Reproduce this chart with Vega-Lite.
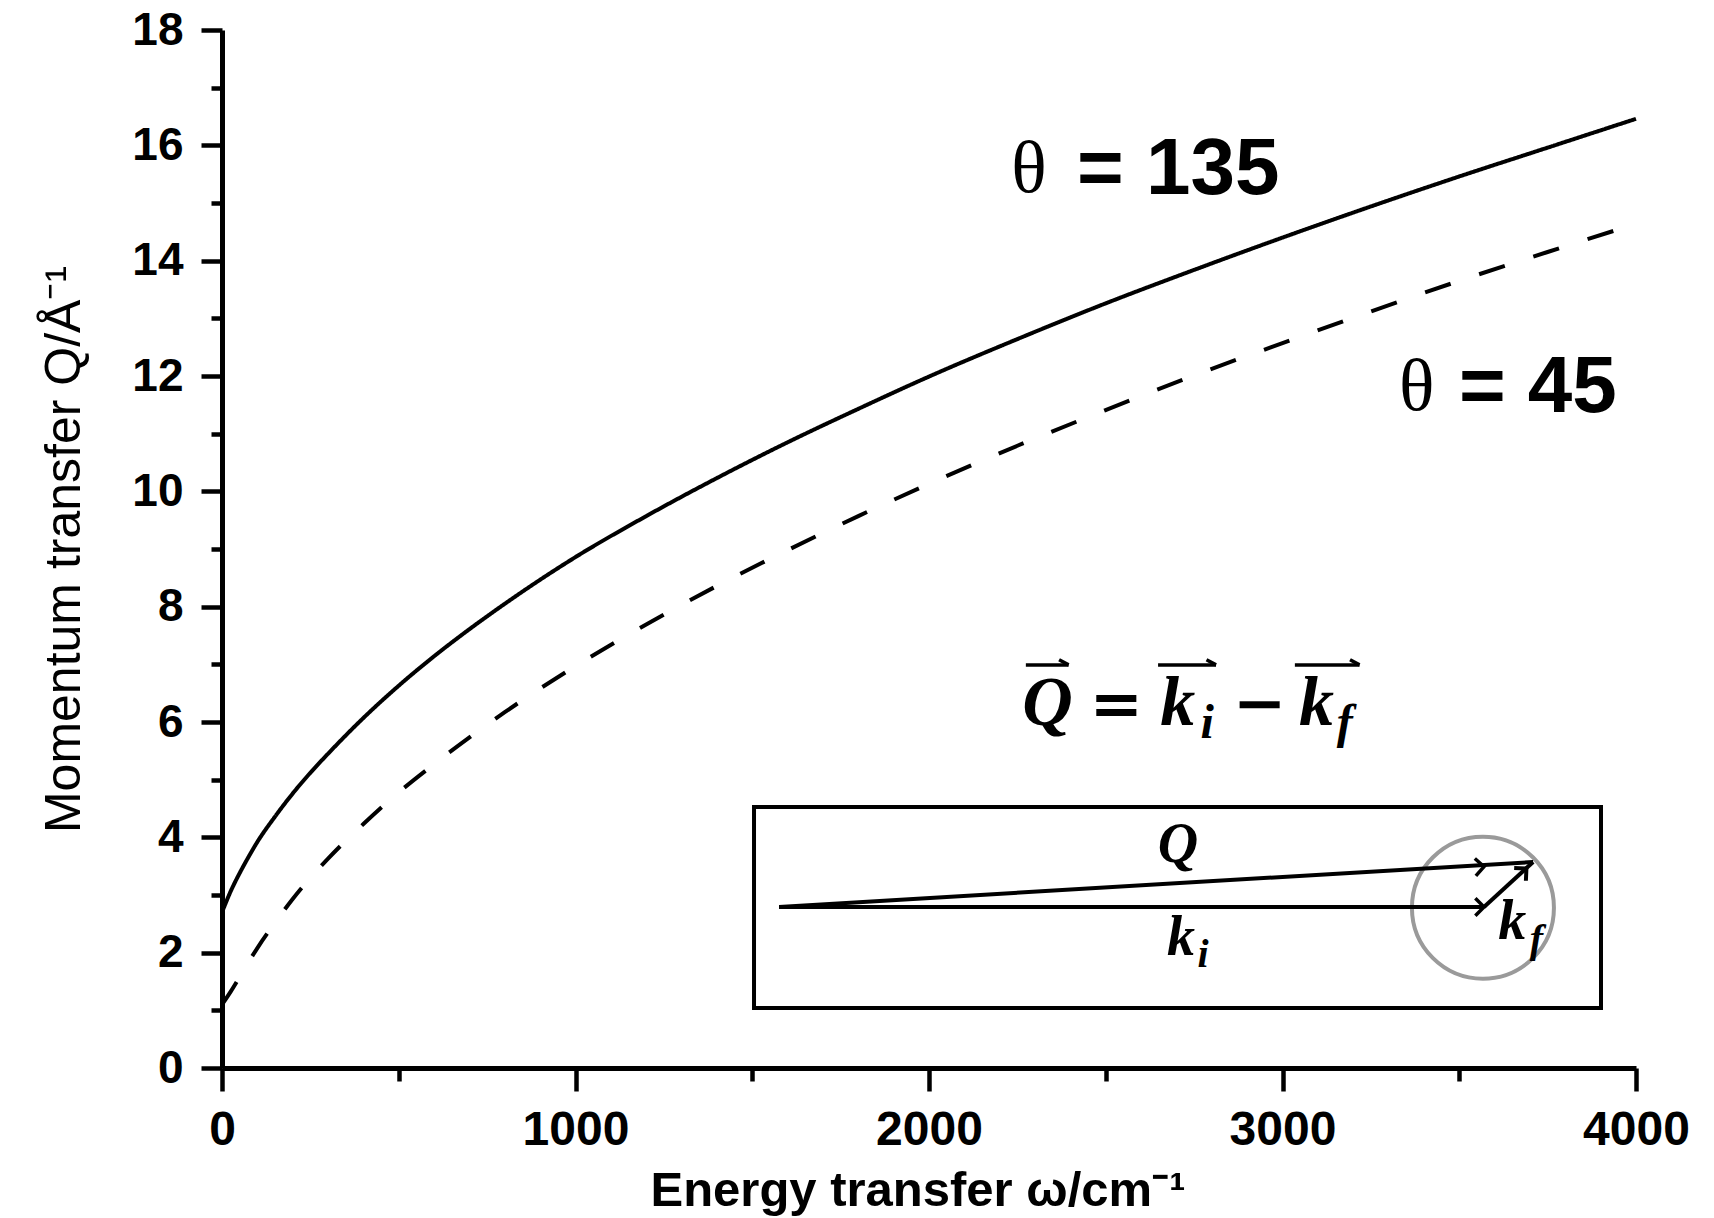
{
  "$schema": "https://vega.github.io/schema/vega-lite/v6.json",
  "width": 1414,
  "height": 1038,
  "autosize": {"type": "none"},
  "padding": {"left": 222, "top": 30, "right": 78, "bottom": 150},
  "background": "white",
  "config": {"view": {"stroke": null}},
  "encoding": {
    "x": {
      "field": "x", "type": "quantitative",
      "scale": {"domain": [0, 4000], "nice": false, "zero": false},
      "axis": {
        "values": [0, 500, 1000, 1500, 2000, 2500, 3000, 3500, 4000],
        "format": "d",
        "labelExpr": "datum.value % 1000 === 0 ? datum.label : ''",
        "tickSize": {"condition": {"test": "datum.value % 1000 !== 0", "value": 13}, "value": 23},
        "labelFlush": false, "labelOverlap": false, "grid": false,
        "domainWidth": 5, "domainColor": "black", "tickWidth": 4.5, "tickColor": "black",
        "labelFont": "Liberation Sans", "labelFontWeight": "bold", "labelFontSize": 48, "labelColor": "black", "labelPadding": 15,
        "title": "Energy transfer ω/cm⁻¹",
        "titleFont": "Liberation Sans", "titleFontWeight": "bold", "titleFontSize": 49, "titleColor": "black",
        "titleX": 428, "titleY": 137, "titleAlign": "left", "titleBaseline": "alphabetic"
      }
    },
    "y": {
      "field": "y", "type": "quantitative",
      "scale": {"domain": [0, 18], "nice": false},
      "axis": {
        "values": [0, 1, 2, 3, 4, 5, 6, 7, 8, 9, 10, 11, 12, 13, 14, 15, 16, 17, 18],
        "format": "d",
        "labelExpr": "datum.value % 2 === 0 ? datum.label : ''",
        "tickSize": {"condition": {"test": "datum.value % 2 !== 0", "value": 11}, "value": 21},
        "labelOverlap": false, "labelFlush": false, "grid": false,
        "domainWidth": 5, "domainColor": "black", "tickWidth": 4.5, "tickColor": "black",
        "labelFont": "Liberation Sans", "labelFontWeight": "bold", "labelFontSize": 46, "labelColor": "black", "labelPadding": 18,
        "title": "Momentum transfer Q/Å⁻¹",
        "titleFont": "Liberation Sans", "titleFontWeight": "normal", "titleFontSize": 50, "titleColor": "black",
        "titleAngle": -90, "titleX": -143, "titleY": 519, "titleAlign": "center", "titleBaseline": "alphabetic"
      }
    }
  },
  "layer": [
    {
      "data": {"values": [
        {"theta": "135", "x": 0, "y": 2.70}, {"theta": "135", "x": 25, "y": 3.07}, {"theta": "135", "x": 50, "y": 3.38},
        {"theta": "135", "x": 75, "y": 3.66}, {"theta": "135", "x": 100, "y": 3.92}, {"theta": "135", "x": 150, "y": 4.36},
        {"theta": "135", "x": 200, "y": 4.76}, {"theta": "135", "x": 250, "y": 5.12}, {"theta": "135", "x": 300, "y": 5.45},
        {"theta": "135", "x": 400, "y": 6.07}, {"theta": "135", "x": 500, "y": 6.63}, {"theta": "135", "x": 600, "y": 7.14},
        {"theta": "135", "x": 700, "y": 7.61}, {"theta": "135", "x": 800, "y": 8.05}, {"theta": "135", "x": 1000, "y": 8.86},
        {"theta": "135", "x": 1200, "y": 9.57}, {"theta": "135", "x": 1400, "y": 10.23}, {"theta": "135", "x": 1600, "y": 10.85},
        {"theta": "135", "x": 1800, "y": 11.43}, {"theta": "135", "x": 2000, "y": 11.99}, {"theta": "135", "x": 2250, "y": 12.64},
        {"theta": "135", "x": 2500, "y": 13.26}, {"theta": "135", "x": 2750, "y": 13.84}, {"theta": "135", "x": 3000, "y": 14.40},
        {"theta": "135", "x": 3250, "y": 14.94}, {"theta": "135", "x": 3500, "y": 15.46}, {"theta": "135", "x": 3750, "y": 15.96},
        {"theta": "135", "x": 4000, "y": 16.46},
        {"theta": "45", "x": 0, "y": 1.10}, {"theta": "45", "x": 25, "y": 1.33}, {"theta": "45", "x": 50, "y": 1.58},
        {"theta": "45", "x": 100, "y": 2.08}, {"theta": "45", "x": 150, "y": 2.52}, {"theta": "45", "x": 200, "y": 2.93},
        {"theta": "45", "x": 300, "y": 3.63}, {"theta": "45", "x": 400, "y": 4.23}, {"theta": "45", "x": 500, "y": 4.78},
        {"theta": "45", "x": 600, "y": 5.27}, {"theta": "45", "x": 800, "y": 6.17}, {"theta": "45", "x": 1000, "y": 6.97},
        {"theta": "45", "x": 1200, "y": 7.69}, {"theta": "45", "x": 1400, "y": 8.36}, {"theta": "45", "x": 1600, "y": 8.98},
        {"theta": "45", "x": 1800, "y": 9.57}, {"theta": "45", "x": 2000, "y": 10.13}, {"theta": "45", "x": 2250, "y": 10.79},
        {"theta": "45", "x": 2500, "y": 11.41}, {"theta": "45", "x": 2750, "y": 12.01}, {"theta": "45", "x": 3000, "y": 12.57},
        {"theta": "45", "x": 3250, "y": 13.12}, {"theta": "45", "x": 3500, "y": 13.65}, {"theta": "45", "x": 3750, "y": 14.15},
        {"theta": "45", "x": 4000, "y": 14.64}
      ]},
      "mark": {"type": "line", "interpolate": "monotone", "color": "black", "strokeWidth": 4, "strokeCap": "butt"},
      "encoding": {
        "detail": {"field": "theta", "type": "nominal"},
        "strokeDash": {"field": "theta", "type": "nominal", "scale": {"domain": ["135", "45"], "range": [[1, 0], [27, 30]]}, "legend": null}
      }
    },
    {
      "data": {"values": [{"x": 1505, "x2": 3901, "y": 4.526, "y2": 1.04}]},
      "mark": {"type": "rect", "fill": "transparent", "stroke": "black", "strokeWidth": 4},
      "encoding": {"x2": {"field": "x2"}, "y2": {"field": "y2"}}
    },
    {
      "data": {"values": [{"x": 3567, "y": 2.78}]},
      "mark": {"type": "point", "shape": "circle", "filled": false, "stroke": "#9a9a9a", "strokeWidth": 4, "size": 20164, "opacity": 1},
      "encoding": {}
    },
    {
      "data": {"values": [
        {"x": 1576, "y": 2.792, "x2": 3570, "y2": 2.792},
        {"x": 1576, "y": 2.792, "x2": 3709, "y2": 3.573},
        {"x": 3570, "y": 2.792, "x2": 3709, "y2": 3.573}
      ]},
      "mark": {"type": "rule", "color": "black", "strokeWidth": 4},
      "encoding": {"x2": {"field": "x2"}, "y2": {"field": "y2"}}
    },
    {
      "data": {"values": [{"x": 3570, "y": 2.792}]},
      "mark": {"type": "point", "shape": "M -1 -1 L 0 0 L -1 1", "filled": false, "stroke": "black", "strokeWidth": 3.5, "size": 300, "opacity": 1, "angle": 0},
      "encoding": {}
    },
    {
      "data": {"values": [{"x": 3570, "y": 3.491}]},
      "mark": {"type": "point", "shape": "M -1 -1 L 0 0 L -1 1", "filled": false, "stroke": "black", "strokeWidth": 3.5, "size": 300, "opacity": 1, "angle": -3.4},
      "encoding": {}
    },
    {
      "data": {"values": [{"x": 3690, "y": 3.46}]},
      "mark": {"type": "point", "shape": "M -1 -1 L 0 0 L -1 1", "filled": false, "stroke": "black", "strokeWidth": 4, "size": 300, "opacity": 1, "angle": -42.6},
      "encoding": {}
    },
    {
      "data": {"values": [{"t": "θ", "x": 2283, "y": 15.58}, {"t": "θ", "x": 3380, "y": 11.79}]},
      "mark": {"type": "text", "font": "Liberation Serif", "fontSize": 74, "align": "center", "baseline": "middle", "color": "black"},
      "encoding": {"text": {"field": "t"}}
    },
    {
      "data": {"values": [{"t": "= 135", "x": 2419, "y": 15.58}, {"t": "= 45", "x": 3499, "y": 11.79}]},
      "mark": {"type": "text", "font": "Liberation Sans", "fontWeight": "bold", "fontSize": 80, "align": "left", "baseline": "middle", "color": "black"},
      "encoding": {"text": {"field": "t"}}
    },
    {
      "data": {"values": [{"t": "Q", "x": 2335, "y": 5.95}, {"t": "k", "x": 2704, "y": 5.95}, {"t": "k", "x": 3096, "y": 5.95}]},
      "mark": {"type": "text", "font": "Liberation Serif", "fontWeight": "bold", "fontStyle": "italic", "fontSize": 70, "align": "center", "baseline": "alphabetic", "color": "black"},
      "encoding": {"text": {"field": "t"}}
    },
    {
      "data": {"values": [{"t": "=", "x": 2530, "y": 5.95}, {"t": "−", "x": 2935, "y": 5.95}]},
      "mark": {"type": "text", "font": "DejaVu Serif", "fontWeight": "bold", "fontSize": 64, "align": "center", "baseline": "alphabetic", "color": "black"},
      "encoding": {"text": {"field": "t"}}
    },
    {
      "data": {"values": [{"t": "i", "x": 2787, "y": 5.72}, {"t": "f", "x": 3176, "y": 5.72}]},
      "mark": {"type": "text", "font": "Liberation Serif", "fontWeight": "bold", "fontStyle": "italic", "fontSize": 48, "align": "center", "baseline": "alphabetic", "color": "black"},
      "encoding": {"text": {"field": "t"}}
    },
    {
      "data": {"values": [
        {"x": 2274, "y": 6.99, "x2": 2395, "y2": 6.99},
        {"x": 2368, "y": 7.08, "x2": 2395, "y2": 6.99},
        {"x": 2648, "y": 6.99, "x2": 2812, "y2": 6.99},
        {"x": 2785, "y": 7.08, "x2": 2812, "y2": 6.99},
        {"x": 3035, "y": 6.99, "x2": 3218, "y2": 6.99},
        {"x": 3191, "y": 7.08, "x2": 3218, "y2": 6.99}
      ]},
      "mark": {"type": "rule", "color": "black", "strokeWidth": 3.5},
      "encoding": {"x2": {"field": "x2"}, "y2": {"field": "y2"}}
    },
    {
      "data": {"values": [{"t": "Q", "x": 2704, "y": 3.57}, {"t": "k", "x": 2713, "y": 1.96}, {"t": "k", "x": 3650, "y": 2.24}]},
      "mark": {"type": "text", "font": "Liberation Serif", "fontWeight": "bold", "fontStyle": "italic", "fontSize": 56, "align": "center", "baseline": "alphabetic", "color": "black"},
      "encoding": {"text": {"field": "t"}}
    },
    {
      "data": {"values": [{"t": "i", "x": 2775, "y": 1.76}, {"t": "f", "x": 3718, "y": 2.02}]},
      "mark": {"type": "text", "font": "Liberation Serif", "fontWeight": "bold", "fontStyle": "italic", "fontSize": 40, "align": "center", "baseline": "alphabetic", "color": "black"},
      "encoding": {"text": {"field": "t"}}
    }
  ]
}
